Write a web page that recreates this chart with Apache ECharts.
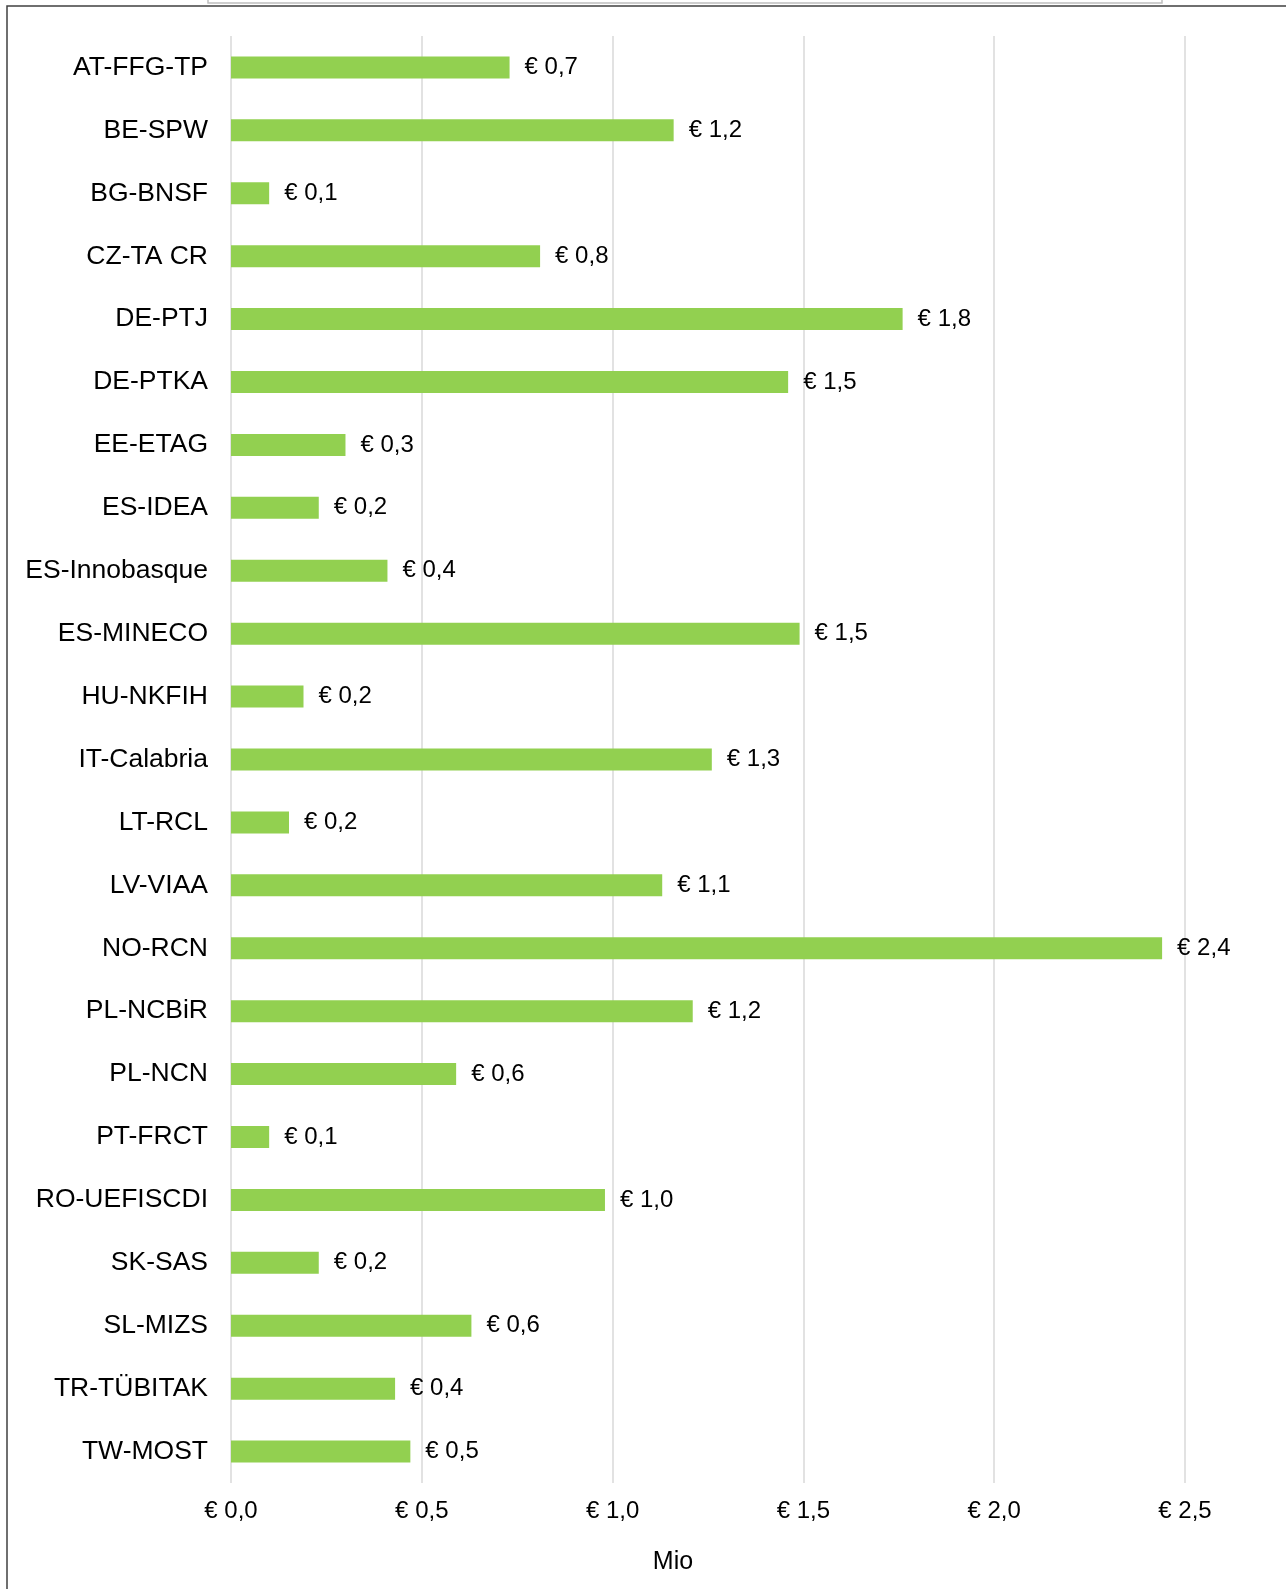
<!DOCTYPE html>
<html>
<head>
<meta charset="utf-8">
<script src="https://cdn.jsdelivr.net/npm/echarts@6/dist/echarts.min.js"></script>
<style>
html,body{margin:0;padding:0;background:#fff;}
#chart{width:1286px;height:1589px;}
</style>
</head>
<body>
<div id="chart"></div>
<script>
const categories = ["AT-FFG-TP","BE-SPW","BG-BNSF","CZ-TA CR","DE-PTJ","DE-PTKA","EE-ETAG","ES-IDEA","ES-Innobasque","ES-MINECO","HU-NKFIH","IT-Calabria","LT-RCL","LV-VIAA","NO-RCN","PL-NCBiR","PL-NCN","PT-FRCT","RO-UEFISCDI","SK-SAS","SL-MIZS","TR-TÜBITAK","TW-MOST"];
const values = [0.73,1.16,0.10,0.81,1.76,1.46,0.30,0.23,0.41,1.49,0.19,1.26,0.152,1.13,2.44,1.21,0.59,0.10,0.98,0.23,0.63,0.43,0.47];
const axisTicks = [0,0.5,1,1.5,2,2.5];
const axisTitle = "Mio";

const FONT = "'Liberation Sans', Arial, sans-serif";
const euro = v => '€ ' + v.toFixed(1).replace('.', ',');

const chart = echarts.init(document.getElementById('chart'));
chart.setOption({
  animation: false,
  backgroundColor: '#fff',
  grid: {left: 231, right: 101, top: 36, bottom: 106, containLabel: false},
  xAxis: {
    type: 'value',
    min: axisTicks[0],
    max: axisTicks[axisTicks.length - 1],
    interval: axisTicks[1] - axisTicks[0],
    axisLine: {show: false},
    axisTick: {show: false},
    splitLine: {show: true, lineStyle: {color: '#d9d9d9', width: 1.5}},
    axisLabel: {
      formatter: v => euro(v),
      fontFamily: FONT, fontSize: 24, color: '#000', margin: 16
    }
  },
  yAxis: {
    type: 'category',
    data: categories,
    inverse: true,
    axisLine: {show: false},
    axisTick: {show: false},
    axisLabel: {fontFamily: FONT, fontSize: 26.5, color: '#000', margin: 23}
  },
  series: [{
    type: 'bar',
    data: values,
    barWidth: 22,
    itemStyle: {color: '#92d050'},
    label: {
      show: true, position: 'right', distance: 15,
      formatter: p => euro(p.value),
      fontFamily: FONT, fontSize: 24, color: '#000'
    }
  }],
  graphic: [
    {type: 'rect', shape: {x: 7, y: 6, width: 1400, height: 1700}, style: {fill: 'none', stroke: '#404040', lineWidth: 1.5}, z: 100},
    {type: 'rect', shape: {x: 208, y: -10, width: 954, height: 13}, style: {fill: 'none', stroke: '#bfbfbf', lineWidth: 1.5}, z: 100},
    {type: 'text', x: 673, y: 1562, style: {text: axisTitle, fontFamily: FONT, fontSize: 25, fill: '#000', textAlign: 'center', textVerticalAlign: 'middle'}}
  ]
});
</script>
</body>
</html>
